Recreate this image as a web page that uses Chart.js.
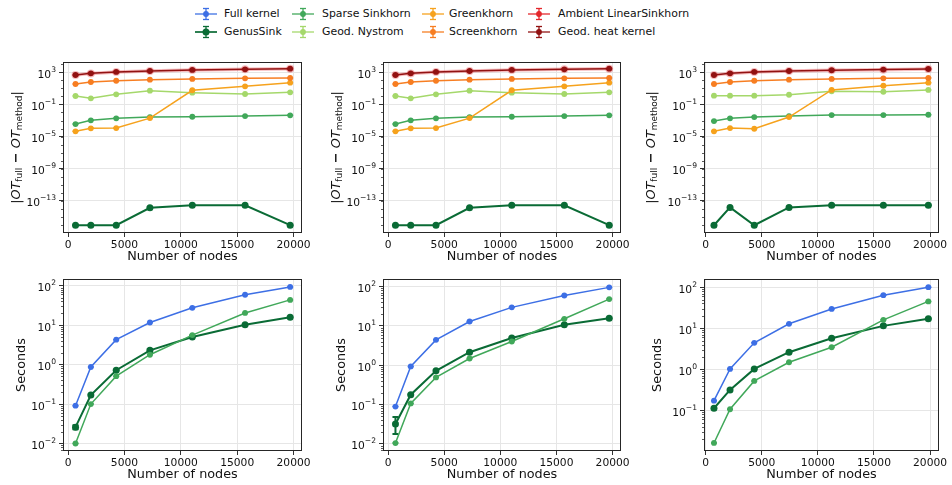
<!DOCTYPE html>
<html>
<head>
<meta charset="utf-8">
<script src="https://cdn.jsdelivr.net/npm/chart.js@4.4.0/dist/chart.umd.min.js"></script>
<style>
  body { margin: 0; width: 952px; height: 485px; background: #fff; position: relative; overflow: hidden; font-family: 'DejaVu Sans', sans-serif; }
  canvas.panel { position: absolute; }
  .leg-text { position: absolute; font-size: 10.9px; color: #111; white-space: nowrap; line-height: 14px; }
  .leg-icon { position: absolute; }
</style>
</head>
<body>
<div id="legend"></div>
<canvas class="panel" id="p1"></canvas>
<canvas class="panel" id="p2"></canvas>
<canvas class="panel" id="p3"></canvas>
<canvas class="panel" id="p4"></canvas>
<canvas class="panel" id="p5"></canvas>
<canvas class="panel" id="p6"></canvas>
<script>
// ---- data ----
const METHODS = ['Full kernel', 'GenusSink', 'Sparse Sinkhorn', 'Geod. Nystrom',
                 'Greenkhorn', 'Screenkhorn', 'Ambient LinearSinkhorn', 'Geod. heat kernel'];
const COLORS = ['#3d6fe5', '#0a6b35', '#41a85a', '#a5d86b',
                '#f6a21d', '#f77e22', '#e4262b', '#921212'];

// number of nodes (left/middle columns, right column)
const NODES_AB = [660, 2020, 4270, 7260, 11020, 15700, 19700];
const NODES_C = [740, 2170, 4330, 7430, 11230, 15840, 19850];

// |OT_full - OT_method|, left and middle columns
const GENUS_ERR_AB = [9.5e-17, 9.5e-17, 9.5e-17, 1.4e-14, 2.8e-14, 2.8e-14, 9.5e-17];
const SPARSE_ERR_AB = [3.6e-4, 1.05e-3, 1.9e-3, 2.7e-3, 2.95e-3, 3.6e-3, 4.4e-3];
const NYSTROM_ERR_AB = [1.12, 0.58, 1.8, 5.1, 2.9, 2.0, 3.2];
const GREENK_ERR_AB = [4.5e-5, 1.07e-4, 1.15e-4, 2.0e-3, 5.8, 18, 51];
const SCREENK_ERR_AB = [35, 62, 89, 120, 148, 178, 195];
const AMBIENT_ERR_AB = [450, 730, 1090, 1440, 1940, 2340, 2790];
const HEAT_ERR_AB = [460, 740, 1100, 1450, 1950, 2350, 2800];

// |OT_full - OT_method|, right column
const GENUS_ERR_C = [9.5e-17, 1.55e-14, 9.5e-17, 1.55e-14, 2.9e-14, 2.9e-14, 2.9e-14];
const SPARSE_ERR_C = [8.5e-4, 1.9e-3, 2.7e-3, 3.6e-3, 4.8e-3, 4.8e-3, 5.2e-3];
const NYSTROM_ERR_C = [1.23, 1.23, 1.23, 1.6, 4.3, 3.8, 6.3];
const GREENK_ERR_C = [4.5e-5, 1.15e-4, 9.5e-5, 2.7e-3, 6.3, 21, 51];
const SCREENK_ERR_C = [35, 62, 89, 120, 148, 178, 195];
const AMBIENT_ERR_C = [450, 730, 1090, 1440, 1760, 2120, 2550];
const HEAT_ERR_C = [460, 740, 1100, 1450, 1780, 2140, 2570];

// runtime in seconds
const FULL_SEC_A = [0.091, 0.87, 4.3, 11.7, 27.5, 59, 93];
const GENUS_SEC_A = [0.026, 0.17, 0.72, 2.3, 5.0, 10.2, 15.8];
const SPARSE_SEC_A = [0.010, 0.10, 0.51, 1.78, 5.6, 20.4, 43.7];
const FULL_SEC_B = [0.089, 0.93, 4.4, 12.9, 29.5, 59, 95];
const GENUS_SEC_B = [0.032, 0.178, 0.72, 2.14, 4.9, 10.7, 15.5];
const SPARSE_SEC_B = [0.0105, 0.107, 0.49, 1.48, 4.0, 15.1, 47.9];
const FULL_SEC_C = [0.172, 1.02, 4.4, 12.8, 29.5, 63.8, 100];
const GENUS_SEC_C = [0.112, 0.313, 1.02, 2.6, 5.7, 11.4, 16.9];
const SPARSE_SEC_C = [0.016, 0.106, 0.52, 1.48, 3.44, 16.0, 45];

// error bar ranges that are visible in the figure (low, high)
const GENUS_SEC_A_BARS = [[0.023, 0.029], null, null, [2.1, 2.5], null, null, null];
const GENUS_SEC_B_BARS = [[0.0178, 0.048], null, null, null, null, null, null];

// tick values
const X_TICKS = [0, 5000, 10000, 15000, 20000];
const Y_TICKS_ERR = [1e-13, 1e-9, 1e-5, 1e-1, 1e3];
const Y_TICKS_SEC = [1e-2, 1e-1, 1e0, 1e1, 1e2];
const Y_TICKS_SEC_C = [1e-1, 1e0, 1e1, 1e2];

// ---- helpers ----
function series(idx, xs, ys, bars) {
  const genus = idx === 1;
  return {
    label: METHODS[idx],
    data: xs.map((x, i) => ({x: x, y: ys[i]})),
    borderColor: COLORS[idx],
    backgroundColor: COLORS[idx],
    borderWidth: genus ? 2 : 1.5,
    pointRadius: genus ? 3.5 : 2.9,
    pointBorderWidth: 0,
    pointHoverRadius: 0,
    tension: 0,
    bars: bars
  };
}

// frame around the axes
const framePlugin = {
  id: 'frame',
  afterDraw(chart) {
    const a = chart.chartArea, ctx = chart.ctx;
    ctx.save();
    ctx.strokeStyle = '#262626';
    ctx.lineWidth = 1;
    ctx.strokeRect(Math.round(a.left) + 0.5, Math.round(a.top) + 0.5,
                   Math.round(a.right - a.left) - 1, Math.round(a.bottom - a.top) - 1);
    ctx.restore();
  }
};

// error bars with caps, drawn right after each dataset
const errorBarPlugin = {
  id: 'errorBars',
  afterDatasetDraw(chart, args) {
    const ds = chart.data.datasets[args.index];
    const y = chart.scales.y, ctx = chart.ctx;
    ctx.save();
    ctx.strokeStyle = ds.borderColor;
    ctx.lineWidth = ds.borderWidth;
    args.meta.data.forEach((pt, i) => {
      const b = ds.bars && ds.bars[i];
      const lo = b ? y.getPixelForValue(b[0]) : pt.y;
      const hi = b ? y.getPixelForValue(b[1]) : pt.y;
      ctx.beginPath();
      ctx.moveTo(pt.x, lo); ctx.lineTo(pt.x, hi);
      ctx.moveTo(pt.x - 3, lo); ctx.lineTo(pt.x + 3, lo);
      ctx.moveTo(pt.x - 3, hi); ctx.lineTo(pt.x + 3, hi);
      ctx.stroke();
    });
    ctx.restore();
  }
};

// small minor ticks on the log axis
const minorTickPlugin = {
  id: 'minorTicks',
  afterDraw(chart, args, opts) {
    const y = chart.scales.y, a = chart.chartArea, ctx = chart.ctx;
    const lo = Math.floor(Math.log10(y.min)), hi = Math.ceil(Math.log10(y.max));
    const subs = opts.dense ? [2, 3, 4, 5, 6, 7, 8, 9] : [1];
    ctx.save();
    ctx.strokeStyle = '#333';
    ctx.lineWidth = 0.8;
    for (let e = lo; e <= hi; e++) {
      subs.forEach(m => {
        const v = m * Math.pow(10, e);
        if (v < y.min || v > y.max) return;
        const p = Math.round(y.getPixelForValue(v)) + 0.5;
        ctx.beginPath();
        ctx.moveTo(a.left - 2, p); ctx.lineTo(a.left, p);
        ctx.stroke();
      });
    }
    ctx.restore();
  }
};

// log tick labels as 10 with a raised exponent
const powLabelPlugin = {
  id: 'powLabels',
  afterDraw(chart) {
    const y = chart.scales.y, a = chart.chartArea, ctx = chart.ctx;
    const base = '10.7px "DejaVu Sans"', small = '7.6px "DejaVu Sans"';
    ctx.save();
    ctx.fillStyle = '#111';
    ctx.textBaseline = 'alphabetic';
    y.ticks.forEach(t => {
      const e = Math.round(Math.log10(t.value));
      const exp = String(e).replace('-', '\u2212');
      const p = y.getPixelForValue(t.value);
      ctx.font = small;
      const we = ctx.measureText(exp).width;
      ctx.font = base;
      const wb = ctx.measureText('10').width;
      const right = a.left - 7;
      ctx.fillText('10', right - we - wb, p + 5.5);
      ctx.font = small;
      ctx.fillText(exp, right - we, p - 0.5);
    });
    ctx.restore();
  }
};

// y axis title, with italic OT and subscripts for the error plots
const yTitlePlugin = {
  id: 'yTitle',
  afterDraw(chart, args, opts) {
    const ctx = chart.ctx, a = chart.chartArea;
    const main = '12.8px "DejaVu Sans"', ital = 'italic 12.8px "DejaVu Sans"', sub = '9px "DejaVu Sans"';
    const parts = opts.kind === 'ot'
      ? [['|', main, 0], ['OT', ital, 0], ['full', sub, 3], [' \u2212 ', 'bold ' + main, 0],
         ['OT', ital, 0], ['method', sub, 3], ['|', main, 0]]
      : [['Seconds', main, 0]];
    ctx.save();
    ctx.translate(opts.x, (a.top + a.bottom) / 2);
    ctx.rotate(-Math.PI / 2);
    ctx.fillStyle = '#111';
    ctx.textBaseline = 'middle';
    let w = 0;
    parts.forEach(p => { ctx.font = p[1]; w += ctx.measureText(p[0]).width; });
    let x = -w / 2;
    parts.forEach(p => { ctx.font = p[1]; ctx.fillText(p[0], x, p[2]); x += ctx.measureText(p[0]).width; });
    ctx.restore();
  }
};

function makePanel(id, box, area, xr, yr, yTicks, kind, titleX, datasets) {
  const cv = document.getElementById(id);
  cv.width = box.w; cv.height = box.h;
  cv.style.left = box.x + 'px'; cv.style.top = box.y + 'px';
  datasets.forEach((d, i) => { d.order = datasets.length - i; });
  return new Chart(cv.getContext('2d'), {
    type: 'line',
    data: { datasets: datasets },
    options: {
      responsive: false,
      animation: false,
      devicePixelRatio: 1,
      events: [],
      layout: { padding: { left: 0, bottom: 0, top: area.t - box.y, right: box.x + box.w - area.r } },
      plugins: {
        legend: { display: false },
        tooltip: { enabled: false },
        yTitle: { kind: kind, x: titleX - box.x },
        minorTicks: { dense: kind === 'sec' }
      },
      scales: {
        x: {
          type: 'linear', min: xr[0], max: xr[1],
          afterBuildTicks: s => { s.ticks = X_TICKS.map(v => ({value: v})); },
          afterFit: s => { s.height = box.y + box.h - area.b; },
          grid: { color: '#e6e6e6', lineWidth: 1, tickColor: '#333', tickLength: 4 },
          border: { display: false },
          ticks: { autoSkip: false, maxRotation: 0, padding: 2, color: '#111',
                   font: { family: 'DejaVu Sans', size: 10.7 },
                   callback: v => String(v) },
          title: { display: true, text: 'Number of nodes', color: '#111', padding: 0,
                   font: { family: 'DejaVu Sans', size: 12.8 } }
        },
        y: {
          type: 'logarithmic', min: yr[0], max: yr[1],
          afterBuildTicks: s => { s.ticks = yTicks.map(v => ({value: v})); },
          afterFit: s => { s.width = area.l - box.x; },
          grid: { color: '#e6e6e6', lineWidth: 1, tickColor: '#333', tickLength: 4 },
          border: { display: false },
          ticks: { display: false, autoSkip: false }
        }
      }
    },
    plugins: [framePlugin, errorBarPlugin, minorTickPlugin, powLabelPlugin, yTitlePlugin]
  });
}

// ---- layout of the six panels ----
const TOP_BOX = { y: 50, h: 214 }, BOT_BOX = { y: 272, h: 210 };
const COLS = [ { x: 0, w: 320, l: 63, r: 302 }, { x: 320, w: 320, l: 383, r: 621 }, { x: 638, w: 314, l: 704, r: 939 } ];
const ERR_RANGE = [1.02e-17, 1.9e4];

function errSets(xs, g, s, n, gk, sk, am, ht) {
  return [series(1, xs, g), series(2, xs, s), series(3, xs, n), series(4, xs, gk),
          series(5, xs, sk), series(6, xs, am), series(7, xs, ht)];
}

const errData = [
  [NODES_AB, errSets(NODES_AB, GENUS_ERR_AB, SPARSE_ERR_AB, NYSTROM_ERR_AB, GREENK_ERR_AB, SCREENK_ERR_AB, AMBIENT_ERR_AB, HEAT_ERR_AB)],
  [NODES_AB, errSets(NODES_AB, GENUS_ERR_AB, SPARSE_ERR_AB, NYSTROM_ERR_AB, GREENK_ERR_AB, SCREENK_ERR_AB, AMBIENT_ERR_AB, HEAT_ERR_AB)],
  [NODES_C, errSets(NODES_C, GENUS_ERR_C, SPARSE_ERR_C, NYSTROM_ERR_C, GREENK_ERR_C, SCREENK_ERR_C, AMBIENT_ERR_C, HEAT_ERR_C)]
];
const X_RANGES = [[-450, 20750], [-450, 20750], [-150, 20800]];
const TITLE_X_TOP = [17, 337, 652];
const TITLE_X_BOT = [22, 342, 658];

for (let c = 0; c < 3; c++) {
  const col = COLS[c];
  // the ambient curve sits under the heat kernel curve with some transparency
  const amb = errData[c][1][5];
  amb.borderColor = 'rgba(228,38,43,0.3)';
  amb.backgroundColor = 'rgba(228,38,43,0.3)';
  amb.borderWidth = 3.5;
  amb.pointRadius = 4;
  makePanel('p' + (c + 1), { x: col.x, y: TOP_BOX.y, w: col.w, h: TOP_BOX.h },
            { l: col.l, r: col.r, t: 62, b: 233 }, X_RANGES[c], ERR_RANGE,
            Y_TICKS_ERR, 'ot', TITLE_X_TOP[c], errData[c][1]);
}

makePanel('p4', { x: COLS[0].x, y: BOT_BOX.y, w: COLS[0].w, h: BOT_BOX.h },
          { l: COLS[0].l, r: COLS[0].r, t: 279, b: 451 }, X_RANGES[0], [0.00646, 148],
          Y_TICKS_SEC, 'sec', TITLE_X_BOT[0],
          [series(0, NODES_AB, FULL_SEC_A), series(1, NODES_AB, GENUS_SEC_A, GENUS_SEC_A_BARS), series(2, NODES_AB, SPARSE_SEC_A)]);
makePanel('p5', { x: COLS[1].x, y: BOT_BOX.y, w: COLS[1].w, h: BOT_BOX.h },
          { l: COLS[1].l, r: COLS[1].r, t: 279, b: 451 }, X_RANGES[1], [0.0066, 155],
          Y_TICKS_SEC, 'sec', TITLE_X_BOT[1],
          [series(0, NODES_AB, FULL_SEC_B), series(1, NODES_AB, GENUS_SEC_B, GENUS_SEC_B_BARS), series(2, NODES_AB, SPARSE_SEC_B)]);
makePanel('p6', { x: COLS[2].x, y: BOT_BOX.y, w: COLS[2].w, h: BOT_BOX.h },
          { l: COLS[2].l, r: COLS[2].r, t: 279, b: 451 }, X_RANGES[2], [0.0102, 158],
          Y_TICKS_SEC_C, 'sec', TITLE_X_BOT[2],
          [series(0, NODES_C, FULL_SEC_C), series(1, NODES_C, GENUS_SEC_C), series(2, NODES_C, SPARSE_SEC_C)]);

// ---- legend: 4 columns x 2 rows ----
const LEG_ICON_X = [195, 292, 422, 528];
const LEG_TEXT_X = [224, 322, 449, 558];
const LEG_ROW_Y = [14, 32];
const legend = document.getElementById('legend');
METHODS.forEach((name, i) => {
  const col = Math.floor(i / 2), row = i % 2, c = COLORS[i];
  const lw = i === 1 ? 2 : 1.5, r = i === 1 ? 3.5 : 2.9;
  const icon = document.createElementNS('http://www.w3.org/2000/svg', 'svg');
  icon.setAttribute('class', 'leg-icon');
  icon.setAttribute('width', 24); icon.setAttribute('height', 14);
  icon.style.left = LEG_ICON_X[col] + 'px';
  icon.style.top = (LEG_ROW_Y[row] - 7) + 'px';
  icon.innerHTML =
    '<line x1="0" y1="7" x2="22" y2="7" stroke="' + c + '" stroke-width="' + lw + '" opacity="0.85"/>' +
    '<line x1="11" y1="1.5" x2="11" y2="12.5" stroke="' + c + '" stroke-width="1.3"/>' +
    '<line x1="8" y1="1.5" x2="14" y2="1.5" stroke="' + c + '" stroke-width="1.3"/>' +
    '<line x1="8" y1="12.5" x2="14" y2="12.5" stroke="' + c + '" stroke-width="1.3"/>' +
    '<circle cx="11" cy="7" r="' + r + '" fill="' + c + '"/>';
  legend.appendChild(icon);
  const t = document.createElement('div');
  t.className = 'leg-text';
  t.textContent = name;
  t.style.left = LEG_TEXT_X[col] + 'px';
  t.style.top = (LEG_ROW_Y[row] - 7) + 'px';
  legend.appendChild(t);
});
</script>
</body>
</html>
